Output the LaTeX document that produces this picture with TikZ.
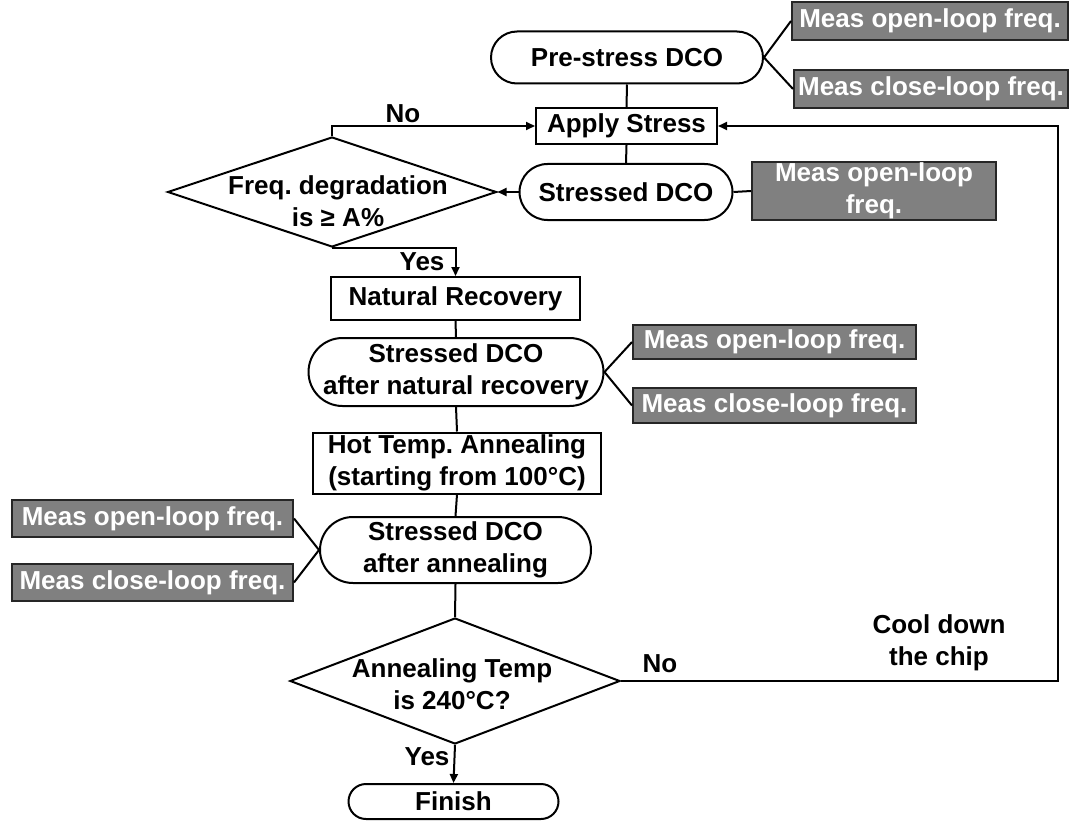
\documentclass[tikz,border=0pt]{standalone}
\usepackage{fontspec}
\setmainfont{Liberation Sans}
\usetikzlibrary{shapes.misc,shapes.geometric,arrows.meta}
\frenchspacing
\begin{document}
\begin{tikzpicture}[x=1pt,y=-1pt,
  font=\fontsize{26}{31.5}\selectfont\bfseries\frenchspacing,
  line width=2pt,
  box/.style={draw, rectangle, inner sep=0pt, align=center},
  pill/.style={draw, rounded rectangle, inner sep=0pt, align=center},
  meas/.style={draw=black!85, fill=black!50, text=white, inner sep=0pt, align=center},
  dia/.style={draw, diamond, inner sep=0pt},
  lbl/.style={inner sep=0pt, align=center},
  arr/.style={-{Triangle[length=9pt,width=8pt]}}]
\useasboundingbox (0,0) rectangle (1070,821);

% nodes
\node[pill, minimum width=272pt, minimum height=52pt] (pre) at (627,57.5) {Pre-stress DCO};
\node[meas, minimum width=276pt, minimum height=38pt] (open1) at (930,21) {Meas open-loop freq.};
\node[meas, minimum width=274pt, minimum height=38pt] (close1) at (931,89) {Meas close-loop freq.};
\node[box, minimum width=181pt, minimum height=36pt] (apply) at (626.5,126) {Apply Stress};
\node[pill, minimum width=213pt, minimum height=56pt] (stressed) at (626,192) {Stressed DCO};
\node[meas, minimum width=244pt, minimum height=58pt] (open2) at (874,191) {Meas open-loop\\freq.};
\node[dia, minimum width=329pt, minimum height=110pt] (d1) at (332,192) {};
\node[lbl] (d1t) at (338,201) {Freq. degradation\\is ≥ A\%};
\node[box, minimum width=249pt, minimum height=43pt] (nat) at (455.5,298.5) {Natural Recovery};
\node[pill, minimum width=294pt, minimum height=68pt] (snr) at (456,372) {Stressed DCO\\after natural recovery};
\node[meas, minimum width=283pt, minimum height=34pt] (open3) at (774.5,342) {Meas open-loop freq.};
\node[meas, minimum width=283pt, minimum height=35pt] (close3) at (774.5,405.5) {Meas close-loop freq.};
\node[box, minimum width=288pt, minimum height=61pt] (hot) at (457,463) {Hot Temp. Annealing\\(starting from 100°C)};
\node[pill, minimum width=271pt, minimum height=66pt] (sa) at (455.5,550) {Stressed DCO\\after annealing};
\node[meas, minimum width=281pt, minimum height=37pt] (open4) at (152.5,518.5) {Meas open-loop freq.};
\node[meas, minimum width=281pt, minimum height=37pt] (close4) at (152.5,582.5) {Meas close-loop freq.};
\node[dia, minimum width=330pt, minimum height=126pt] (d2) at (455,681) {};
\node[lbl] (d2t) at (452,684) {Annealing Temp\\is 240°C?};
\node[pill, minimum width=210pt, minimum height=35pt] (fin) at (453.5,801.5) {Finish};

% labels
\node[lbl] (no1) at (403,114) {No};
\node[lbl] (yes1) at (422,262) {Yes};
\node[lbl] (no2) at (660,664) {No};
\node[lbl] (cool) at (939,643) {Cool down\\the chip};
\node[lbl] (yes2) at (427,757) {Yes};
\coordinate (ret) at (1058,126);

% connectors
\draw (pre.east) -- (open1.west);
\draw (pre.east) -- (close1.west);
\draw (pre.south) -- (apply.north);
\draw (apply.south) -- (stressed.north);
\draw (stressed.east) -- (open2.west);
\draw[arr] (stressed.west) -- (d1.east);
\draw[arr] (d1.north) -- (d1.north |- apply.west) -- (apply.west);
\draw[arr] (d1.south) -- (nat.north |- d1.south) -- (nat.north);
\draw (nat.south) -- (snr.north);
\draw (snr.east) -- (open3.west);
\draw (snr.east) -- (close3.west);
\draw (snr.south) -- (hot.north);
\draw (hot.south) -- (sa.north);
\draw (sa.west) -- (open4.east);
\draw (sa.west) -- (close4.east);
\draw (sa.south) -- (d2.north);
\draw[arr] (d2.east) -| (ret) -- (apply.east);
\draw[arr] (d2.south) -- (fin.north);
\end{tikzpicture}
\end{document}
